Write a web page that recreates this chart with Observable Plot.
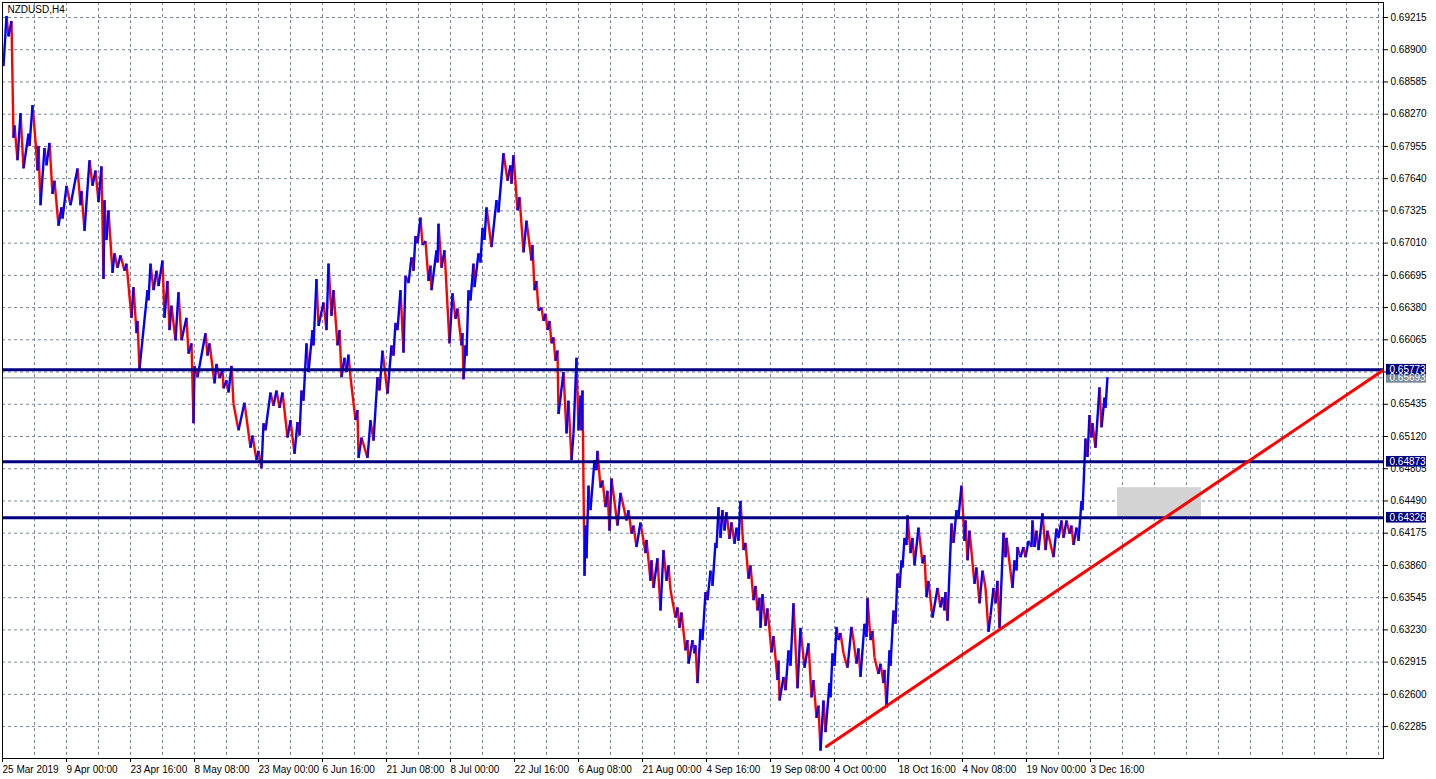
<!DOCTYPE html>
<html><head><meta charset="utf-8">
<script src="https://cdn.jsdelivr.net/npm/d3@7"></script>
<script src="https://cdn.jsdelivr.net/npm/@observablehq/plot@0.6"></script>
<style>
html,body{margin:0;padding:0;background:#fff;}
#chart{width:1436px;height:779px;}
</style></head><body>
<div id="chart"></div>
<script>
const symbol = "NZDUSD,H4";

// swing points of the H4 price path (bar index, price)
const swingBar = [
1,4,6,9,11,12,15,18,21,26,
27,30,33,35,36,38,42,44,47,50,
52,56,59,60,64,68,75,78,79,82,
87,90,93,96,99,101,102,104,106,110,
112,115,118,122,124,129,131,134,135,137,
145,146,148,151,154,156,160,162,165,167,
169,173,176,179,184,186,189,191,192,195,
203,205,207,212,214,217,220,221,224,226,
229,231,236,242,248,250,254,256,259,261,
263,268,271,274,277,280,285,288,292,295,
297,299,301,304,306,310,311,314,316,321,
324,326,329,331,335,337,339,342,344,346,
348,353,355,356,359,365,368,371,375,377,
380,385,389,391,393,395,398,401,403,406,
409,411,413,415,418,420,423,426,428,429,
434,435,436,439,442,447,450,453,455,459,
460,461,463,464,466,468,471,472,476,478,
480,482,484,489,494,496,501,505,508,509,
511,515,517,521,524,529,530,532,534,536,
539,541,543,545,547,549,551,553,555,556,
561,564,566,569,571,574,576,578,579,580,
582,583,584,586,588,592,594,595,598,600,
603,605,607,609,615,618,624,626,629,631,
634,638,643,644,648,649,651,655,658,661,
664,666,668,673,675,677,679,683,685,686,
690,692,693,695,698,700,703,705,708,710,
713,714,716,718,720,722,724,727,729,732,
734,736,738,741,743,746,748,751,753,755,
757,758,760,763,765,769,771,775,776,777,
781,783,786,788,791,795,798,802,806,809,
811,814,816,818,821,823,827,828,830,832,
834,836,838,841,845,849,851,854,856,858,
862,864,865,868,870,872,876,878,881,882,
884,887,888,891,893,895,897,899,900,902,
904,905,908,910,912,916,920,922,924,926,
930,935,938,940,942,943,945,949,951,954,
956,959,962,963,965,967,972,974,977,980,
983,986,988,991,993,995,997,1001,1003,1004,
1010,1012,1014,1015,1018,1021,1023,1026,1029,1030,
1032,1034,1036,1040,1043,1045,1051,1054,1056,1059,
1061,1064,1067,1069,1071,1074,1076,1079,1080,1083,
1085,1087,1089,1090,1093,1097,1099,1102,1103,1105
];
const swingPrice = [
.6874,.6923,.6903,.6918,.6804,.6816,.6782,.6828,.6774,.6808,
.6796,.6836,.6801,.6772,.6796,.6738,.6794,.6777,.6799,.6749,
.6762,.6718,.6736,.6725,.6757,.6738,.6774,.6738,.6752,.6713,
.6782,.6757,.6772,.6741,.6776,.6666,.6743,.6704,.6733,.6672,
.6691,.6677,.6689,.6674,.6681,.6628,.6658,.6613,.6625,.6578,
.6655,.6645,.6681,.6655,.6674,.6659,.6684,.6628,.6664,.6616,
.6640,.6606,.6653,.6606,.6628,.6593,.6603,.6525,.6581,.6570,
.6613,.6591,.6603,.6564,.6583,.6569,.6577,.6559,.6567,.6555,
.6581,.6544,.6518,.6545,.6501,.6513,.6489,.6498,.6481,.6525,
.6518,.6555,.6542,.6557,.6540,.6555,.6511,.6528,.6495,.6526,
.6513,.6557,.6547,.6603,.6575,.6616,.6601,.6666,.6620,.6643,
.6616,.6681,.6630,.6655,.6601,.6616,.6570,.6589,.6575,.6592,
.6570,.6528,.6538,.6491,.6511,.6491,.6528,.6508,.6570,.6557,
.6596,.6554,.6601,.6591,.6623,.6616,.6655,.6594,.6669,.6662,
.6687,.6674,.6708,.6701,.6726,.6699,.6703,.6664,.6679,.6655,
.6694,.6682,.6720,.6677,.6694,.6603,.6652,.6627,.6637,.6601,
.6613,.6568,.6601,.6591,.6655,.6645,.6681,.6658,.6691,.6682,
.6716,.6704,.6736,.6697,.6743,.6731,.6789,.6762,.6777,.6759,
.6787,.6733,.6746,.6692,.6723,.6684,.6699,.6655,.6664,.6635,
.6638,.6625,.6632,.6616,.6625,.6603,.6609,.6586,.6596,.6534,
.6575,.6515,.6547,.6489,.6515,.6589,.6518,.6552,.6518,.6557,
.6376,.6425,.6393,.6464,.6440,.6489,.6479,.6498,.6462,.6469,
.6443,.6459,.6420,.6471,.6425,.6457,.6430,.6440,.6417,.6425,
.6404,.6428,.6398,.6411,.6371,.6391,.6364,.6393,.6342,.6401,
.6371,.6386,.6362,.6335,.6345,.6325,.6340,.6303,.6313,.6290,
.6313,.6300,.6308,.6271,.6324,.6313,.6360,.6352,.6381,.6366,
.6408,.6403,.6443,.6413,.6440,.6420,.6438,.6412,.6428,.6407,
.6423,.6410,.6449,.6401,.6408,.6373,.6386,.6352,.6366,.6342,
.6354,.6325,.6358,.6327,.6344,.6301,.6317,.6274,.6293,.6254,
.6277,.6264,.6303,.6288,.6349,.6266,.6325,.6286,.6310,.6257,
.6274,.6237,.6249,.6205,.6254,.6223,.6271,.6257,.6300,.6288,
.6326,.6313,.6320,.6300,.6286,.6326,.6313,.6290,.6305,.6277,
.6329,.6316,.6354,.6313,.6322,.6296,.6280,.6290,.6271,.6284,
.6247,.6303,.6288,.6342,.6329,.6378,.6364,.6391,.6384,.6413,
.6406,.6435,.6398,.6413,.6386,.6423,.6388,.6396,.6355,.6371,
.6335,.6364,.6345,.6355,.6342,.6360,.6332,.6427,.6408,.6440,
.6433,.6464,.6410,.6430,.6391,.6420,.6368,.6384,.6349,.6381,
.6364,.6321,.6337,.6364,.6349,.6371,.6325,.6418,.6394,.6413,
.6364,.6391,.6381,.6404,.6394,.6404,.6394,.6410,.6404,.6430,
.6404,.6420,.6401,.6437,.6401,.6420,.6394,.6422,.6413,.6430,
.6413,.6430,.6417,.6425,.6406,.6423,.6410,.6449,.6440,.6510,
.6492,.6533,.6511,.6525,.6501,.6560,.6521,.6550,.6540,.6570
];

const xTickBars = [0,64,128,192,256,320,384,448,512,576,640,704,768,832,896,960,1024,1088];
const xTickLabels = ["25 Mar 2019","9 Apr 00:00","23 Apr 16:00","8 May 08:00","23 May 00:00","6 Jun 16:00",
  "21 Jun 08:00","8 Jul 00:00","22 Jul 16:00","6 Aug 08:00","21 Aug 00:00","4 Sep 16:00",
  "19 Sep 08:00","4 Oct 00:00","18 Oct 16:00","4 Nov 08:00","19 Nov 00:00","3 Dec 16:00"];
const yTickValues = [0.62285,0.62600,0.62915,0.63230,0.63545,0.63860,0.64175,0.64490,0.64805,0.65120,
  0.65435,0.65750,0.66065,0.66380,0.66695,0.67010,0.67325,0.67640,0.67955,0.68270,0.68585,0.68900,0.69215];
// tick label hidden behind the 0.65773 level box in the reference
const yHiddenLabel = 0.65750;

const levels = [0.65773, 0.64873, 0.64326];
const bidPrice = 0.65693;
const trendBars = [824, 1381];
const trendPrices = [0.6209, 0.6577];
const zoneBars = [1115, 1199];
const zonePrices = [0.64326, 0.6462];

const xDomain = [0, 1381];
const yDomain = [0.619731, 0.693616];
const plotH = 779 - 2 - 21;

const segs = swingBar.slice(1).map((b, i) => ({
  x1: swingBar[i], y1: swingPrice[i], x2: b, y2: swingPrice[i + 1],
  up: swingPrice[i + 1] >= swingPrice[i]
}));
const trend = trendBars.map((b, i) => ({x: b, y: trendPrices[i]}));
const zone = [{x1: zoneBars[0], x2: zoneBars[1], y1: zonePrices[0], y2: zonePrices[1]}];
const labelOf = new Map(xTickBars.map((b, i) => [b, xTickLabels[i]]));
const gridBars = d3.range(32, xDomain[1], 32);

// price-label boxes on the right (MT4 style): sized in screen pixels, converted to scale units
const pricePerPx = (yDomain[1] - yDomain[0]) / plotH;
const boxHalf = 5.3 * pricePerPx;
const priceBoxes = [
  {price: bidPrice, color: "#778899"},
  ...levels.map(p => ({price: p, color: "#000080"}))
].map(d => ({...d, x1: xDomain[1] + 3, x2: xDomain[1] + 43, y1: d.price - boxHalf, y2: d.price + boxHalf}));

const grid = {stroke: "#778899", strokeOpacity: 1, strokeWidth: 1, strokeDasharray: "3,3"};

const chart = Plot.plot({
  width: 1436, height: 779,
  marginLeft: 2, marginTop: 2, marginRight: 53, marginBottom: 21,
  style: {fontFamily: '"Liberation Sans", Arial, sans-serif', fontSize: "10px", background: "#fff", color: "#000", overflow: "visible"},
  x: {domain: xDomain},
  y: {domain: yDomain},
  marks: [
    Plot.gridX(gridBars, grid),
    Plot.gridY(yTickValues, grid),
    Plot.rect(zone, {x1: "x1", x2: "x2", y1: "y1", y2: "y2", fill: "#d3d3d3"}),
    Plot.ruleY([bidPrice], {stroke: "#778899", strokeWidth: 1}),
    Plot.link(segs.filter(d => !d.up), {x1: "x1", y1: "y1", x2: "x2", y2: "y2", stroke: "#ff0000", strokeWidth: 2.4}),
    Plot.link(segs.filter(d => d.up), {x1: "x1", y1: "y1", x2: "x2", y2: "y2", stroke: "#0000ff", strokeWidth: 2.4}),
    Plot.ruleY(levels, {stroke: "#000080", strokeWidth: 3}),
    Plot.line(trend, {x: "x", y: "y", stroke: "#ff0000", strokeWidth: 3, clip: true}),
    Plot.frame({stroke: "#000"}),
    Plot.axisY(yTickValues, {anchor: "right", tickSize: 4, tickPadding: 3, tickFormat: d => d === yHiddenLabel ? "" : d.toFixed(5), label: null, fill: "#000", stroke: "#000"}),
    Plot.axisX(xTickBars, {anchor: "bottom", tickSize: 4, tickPadding: 3, tickFormat: d => labelOf.get(d), textAnchor: "start", label: null, fill: "#000", stroke: "#000"}),
    Plot.rect(priceBoxes, {x1: "x1", x2: "x2", y1: "y1", y2: "y2", fill: "color"}),
    Plot.text(priceBoxes, {x: "x1", y: "price", dx: 3, textAnchor: "start", text: d => d.price.toFixed(5), fill: "white"}),
    Plot.text([symbol], {frameAnchor: "top-left", dx: 5, dy: 3, lineAnchor: "top", textAnchor: "start", fill: "#000"})
  ]
});
document.getElementById("chart").appendChild(chart);
</script>
</body></html>
